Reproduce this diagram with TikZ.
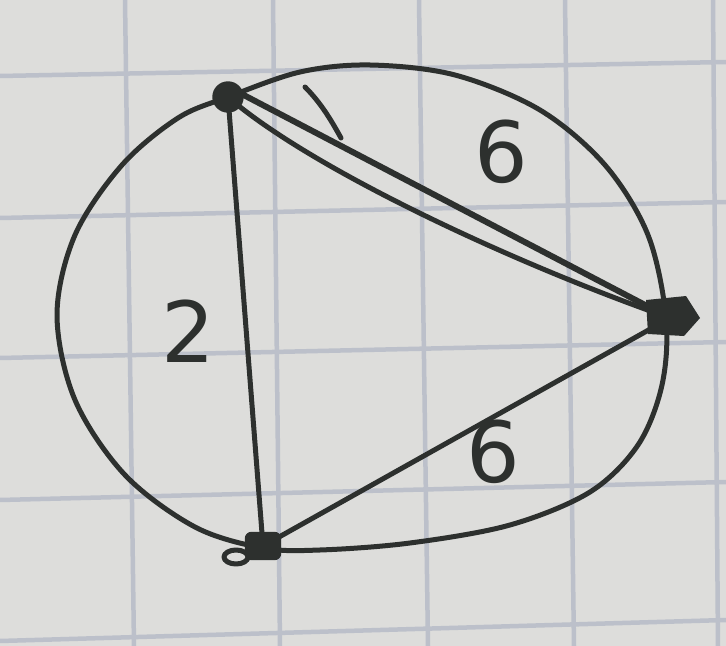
\documentclass[tikz,border=0pt]{standalone}
\usepackage{fontspec}
\setmainfont{DejaVu Sans}
\definecolor{paper}{RGB}{221,221,219}
\definecolor{gridc}{RGB}{188,192,202}
\definecolor{ink}{RGB}{45,48,46}
\tikzset{
  gridline/.style={gridc, line width=0.45mm},
  inkline/.style={ink, line width=0.5mm, line cap=round, line join=round},
  vtx/.style={fill=ink, draw=ink, inner sep=0pt},
  lbl/.style={ink, font=\fontsize{24}{24}\selectfont, inner sep=0pt}
}
\begin{document}
\begin{tikzpicture}[x=0.1mm, y=-0.1mm]
\fill[paper] (0,0) rectangle (726,646);
\useasboundingbox (0,0) rectangle (726,646);
% grid
\foreach \a/\b in {125/134, 273/280, 419/428, 565/574, 713/718}
  \draw[gridline] (\a,0) -- (\b,646);
\foreach \a/\b in {76/62, 218/202, 358/342, 500/482, 641/620}
  \draw[gridline] (0,\a) -- (726,\b);
% vertices
\node[vtx, circle, minimum size=3mm] (A) at (228,97) {};
\node[vtx, rounded corners=0.6mm, minimum width=3.5mm, minimum height=2.7mm] (C) at (263,546) {};
\coordinate (B) at (670,318);
\coordinate (Atop) at (236,91);
\fill[ink] (646,300) -- (686,296) -- (700,318) -- (684,336) -- (648,334) -- cycle;
% outer closed curve through A, B, C
\draw[inkline] plot[smooth cycle, tension=0.55] coordinates {
  (228,97) (300,72) (370,65) (455,75) (540,110) (605,165) (648,235) (666,318)
  (662,385) (638,445) (590,492) (510,525) (410,543) (320,550) (263,548)
  (195,527) (125,475) (75,400) (57,315) (75,235) (122,165) (178,118)};
% edges
\draw[inkline] (A.center) -- (C.center);
\draw[inkline] (C.center) -- (B);
\draw[inkline, line width=0.6mm] (Atop) -- (B);
\draw[inkline] (A.center) .. controls (310,168) and (510,262) .. (B);
\draw[inkline] (305,87) .. controls (320,102) and (330,118) .. (341,138);
\draw[inkline] (236,557) ellipse (12 and 7);
% labels
\node[lbl] (l1) at (501,152) {6};
\node[lbl] (l2) at (188,331) {2};
\node[lbl] (l3) at (493,452) {6};
\end{tikzpicture}
\end{document}
